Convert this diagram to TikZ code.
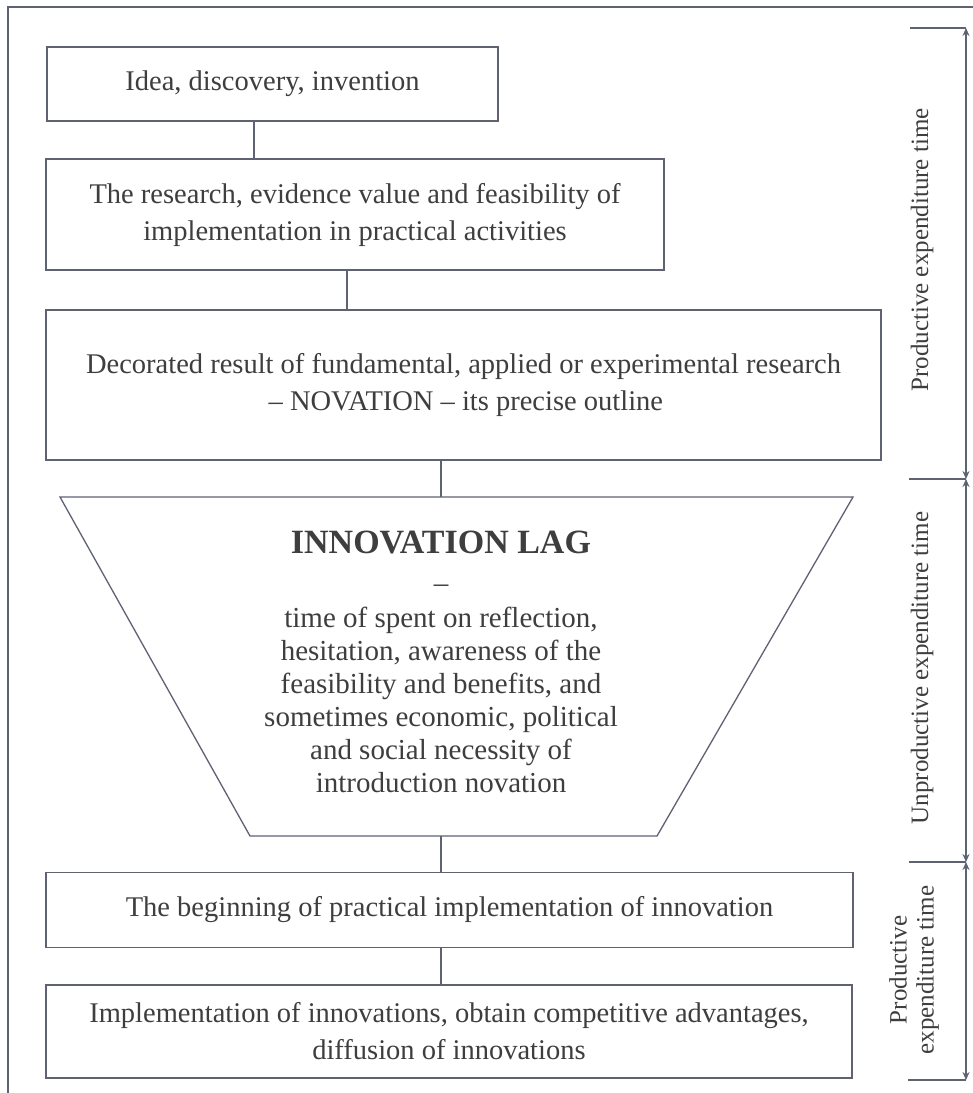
\documentclass[tikz,border=0pt]{standalone}
\usepackage{fontspec}
\setmainfont{Liberation Serif}
\usetikzlibrary{arrows.meta}
\definecolor{ln}{HTML}{5E6272}
\definecolor{tx}{HTML}{3E3E3E}
\begin{document}
\begin{tikzpicture}[x=1pt,y=-1pt,
  box/.style={draw=ln,line width=1.3pt,rectangle,inner sep=0pt,align=center,text=tx,
    font=\fontsize{28.5}{37}\selectfont},
  conn/.style={draw=ln,line width=1.3pt},
  side/.style={text=tx,align=center,rotate=90,font=\fontsize{25}{27}\selectfont},
  dim/.style={draw=ln,line width=1.3pt,{Stealth[length=8pt,width=7pt]}-{Stealth[length=8pt,width=7pt]}}
]
\useasboundingbox (0,0) rectangle (973,1093);
\fill[white] (0,0) rectangle (973,1093);
% frame
\draw[ln,line width=1.3pt] (8,1093) -- (8,7) -- (973,7);

\node[box,minimum width=451pt,minimum height=74pt] (b1) at (272.5,84) {Idea, discovery, invention};
\node[box,minimum width=618pt,minimum height=111pt] (b2) at (355,214.5) {The research, evidence value and feasibility of\\implementation in practical activities};
\node[box,minimum width=835pt,minimum height=150pt] (b3) at (463.5,385) {Decorated result of fundamental, applied or experimental research\\\,-- NOVATION -- its precise outline};

% trapezoid
\coordinate (tTL) at (60,497);
\coordinate (tTR) at (853,497);
\coordinate (tBR) at (657,836);
\coordinate (tBL) at (250,836);
\coordinate (tT) at (441,497);
\coordinate (tB) at (441,836);
\draw[ln,line width=1.3pt] (tTL) -- (tTR) -- (tBR) -- (tBL) -- cycle;
\node[text=tx,anchor=base,font=\fontsize{34}{38}\selectfont\bfseries] (lag) at (441,553) {INNOVATION LAG};
\node[text=tx,anchor=base,font=\fontsize{29}{33}\selectfont] (dash) at (441,592) {--};
\node[text=tx,align=center,font=\fontsize{29}{33}\selectfont] (lagtext) at (441,700)
  {time of spent on reflection,\\hesitation, awareness of the\\feasibility and benefits, and\\sometimes economic, political\\and social necessity of\\introduction novation};

\node[box,minimum width=807pt,minimum height=75pt] (b6) at (449.5,910) {The beginning of practical implementation of innovation};
\node[box,minimum width=806pt,minimum height=93pt] (b7) at (449,1031.5) {Implementation of innovations, obtain competitive advantages,\\diffusion of innovations};

% connectors
\draw[conn] (b1.south -| 254,0) -- (b2.north -| 254,0);
\draw[conn] (b2.south -| 347,0) -- (b3.north -| 347,0);
\draw[conn] (b3.south -| tT) -- (tT);
\draw[conn] (tB) -- (b6.north -| tB);
\draw[conn] (b6.south -| tB) -- (b7.north -| tB);

% right dimension bracket
\coordinate (d0) at (966,28);
\coordinate (d1) at (966,479);
\coordinate (d2) at (966,862);
\coordinate (d3) at (966,1080);
\draw[conn] (910,28) -- (d0);
\draw[conn] (909,479) -- (d1);
\draw[conn] (909,862) -- (d2);
\draw[conn] (908,1080) -- (d3);
\draw[dim] (d0) -- (d1);
\draw[dim] (d1) -- (d2);
\draw[dim] (d2) -- (d3);
\node[side] (s1) at (922,250) {Productive expenditure time};
\node[side] (s2) at (922,668) {Unproductive expenditure time};
\node[side] (s3) at (914,970) {Productive\\expenditure time};
\end{tikzpicture}
\end{document}
